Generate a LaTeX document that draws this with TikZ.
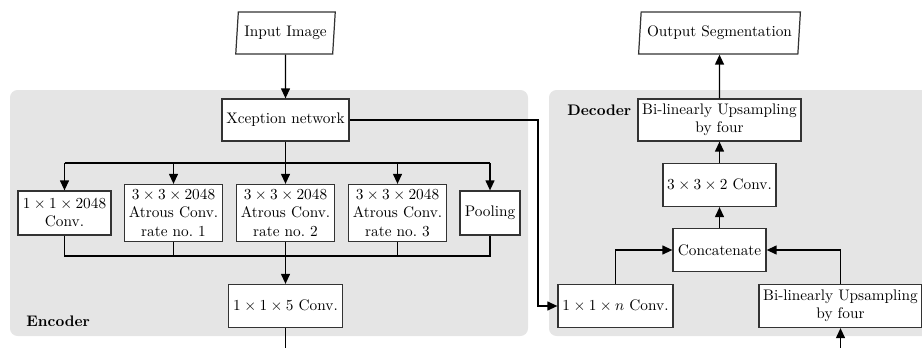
\documentclass[tikz,border=0pt]{standalone}
\usetikzlibrary{shapes.geometric,arrows.meta}
\begin{document}
\begin{tikzpicture}[x=0.6536pt,y=-0.6536pt,
  box/.style={draw=black!80, line width=0.8pt, fill=white, align=center, inner sep=2pt},
  para/.style={draw=black!80, line width=0.8pt, fill=white, trapezium, trapezium left angle=83, trapezium right angle=97, trapezium stretches=true, inner sep=2pt},
  bg/.style={fill=gray!20, rounded corners=5pt},
  conn/.style={line width=0.9pt, black},
  arr/.style={line width=0.9pt, black, -{Triangle[length=6.5pt,width=5.8pt]}},
  lbl/.style={font=\bfseries, anchor=west}]
\useasboundingbox (0,0) rectangle (922,348);
% backgrounds
\fill[bg] (10,90) rectangle (528,336);
\fill[bg] (549,90) rectangle (935,336);
% encoder nodes
\node[para, minimum width=100*0.6536pt, minimum height=42*0.6536pt] (in) at (285.5,33) {Input Image};
\node[box, minimum width=127*0.6536pt, minimum height=42*0.6536pt] (xc) at (285.5,120) {Xception network};
\node[box, minimum width=93*0.6536pt, minimum height=44*0.6536pt] (c1) at (64.5,213) {$1\times1\times2048$\\Conv.};
\node[box, minimum width=98*0.6536pt, minimum height=57*0.6536pt] (a1) at (173.5,213) {$3\times3\times2048$\\Atrous Conv.\\rate no.\ 1};
\node[box, minimum width=98*0.6536pt, minimum height=57*0.6536pt] (a2) at (285.5,213) {$3\times3\times2048$\\Atrous Conv.\\rate no.\ 2};
\node[box, minimum width=98*0.6536pt, minimum height=57*0.6536pt] (a3) at (397.5,213) {$3\times3\times2048$\\Atrous Conv.\\rate no.\ 3};
\node[box, minimum width=60*0.6536pt, minimum height=44*0.6536pt] (pl) at (490,213) {Pooling};
\node[box, minimum width=114*0.6536pt, minimum height=43*0.6536pt] (c5) at (285.5,306) {$1\times1\times5$ Conv.};
\node[lbl] (enc) at (21,321) {Encoder};
% decoder nodes
\node[para, minimum width=162*0.6536pt, minimum height=42*0.6536pt] (out) at (719.5,33) {Output Segmentation};
\node[lbl] (dec) at (562,110) {Decoder};
\node[box, minimum width=163*0.6536pt, minimum height=42*0.6536pt] (up1) at (719.5,120) {Bi-linearly Upsampling\\by four};
\node[box, minimum width=113*0.6536pt, minimum height=43*0.6536pt] (c3) at (719.5,185) {$3\times3\times2$ Conv.};
\node[box, minimum width=93*0.6536pt, minimum height=43*0.6536pt] (cat) at (719.5,250) {Concatenate};
\node[box, minimum width=115*0.6536pt, minimum height=43*0.6536pt] (cn) at (615.5,306) {$1\times1\times n$ Conv.};
\node[box, minimum width=163*0.6536pt, minimum height=43*0.6536pt] (up2) at (840.5,306) {Bi-linearly Upsampling\\by four};
% free ends
\coordinate (e1) at (285.5,348);
\coordinate (d1) at (840.5,348);
% encoder connections
\draw[arr] (in) -- (xc);
\draw[conn] (xc.south) -- (xc.south |- 0,163);
\draw[conn] (c1.north |- 0,163) -- (pl.north |- 0,163);
\draw[arr] (c1.north |- 0,163) -- (c1.north);
\draw[arr] (a1.north |- 0,163) -- (a1.north);
\draw[arr] (a2.north |- 0,163) -- (a2.north);
\draw[arr] (a3.north |- 0,163) -- (a3.north);
\draw[arr] (pl.north |- 0,163) -- (pl.north);
\draw[conn] (c1.south) -- (c1.south |- 0,256) -- (pl.south |- 0,256) -- (pl.south);
\draw[conn] (a1.south) -- (a1.south |- 0,256);
\draw[conn] (a3.south) -- (a3.south |- 0,256);
\draw[arr] (a2.south) -- (c5.north);
\draw[conn] (c5.south) -- (e1);
% decoder connections
\draw[arr] (xc.east) -- (538,120) -- (538,306) -- (cn.west);
\draw[arr] (cn.north) |- (cat.west);
\draw[arr] (up2.north) |- (cat.east);
\draw[arr] (cat) -- (c3);
\draw[arr] (c3) -- (up1);
\draw[arr] (up1) -- (out);
\draw[arr] (d1) -- (up2.south);
\end{tikzpicture}
\end{document}
